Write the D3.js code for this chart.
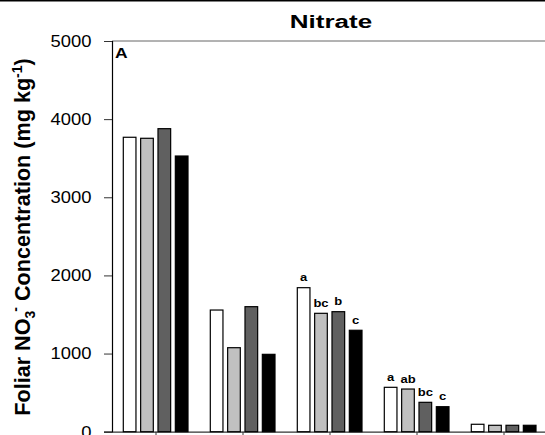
<!DOCTYPE html>
<html>
<head>
<meta charset="utf-8">
<script src="https://cdn.jsdelivr.net/npm/d3@7"></script>
<style>
body{margin:0;background:#fff;}
text{font-family:"Liberation Sans",Arial,sans-serif;}
</style>
</head>
<body>
<div id="chart"></div>
<script>
// data
var groups = ["1","2","3","4","5"];
var series = ["s1","s2","s3","s4"];
var colors = ["#ffffff","#c0c0c0","#606060","#000000"];
var s1 = [3768,1557,1843,568,95];
var s2 = [3755,1075,1515,546,82];
var s3 = [3878,1600,1536,376,82];
var s4 = [3528,990,1298,320,82];
var letters = [
	["","","",""],
	["","","",""],
	["a","bc","b","c"],
	["a","ab","bc","c"],
	["","","",""]
];
var yTicks = [0,1000,2000,3000,4000,5000];

var W = 545, H = 435;
var svg = d3.select("#chart").append("svg").attr("width",W).attr("height",H);

var x0 = d3.scaleBand().domain(groups).range([112.5,547.5]).paddingInner(0).paddingOuter(0);
var x1 = d3.scaleBand().domain(series).range([10.8,75.5]).paddingInner(0.27).paddingOuter(0);
var y = d3.scaleLinear().domain([0,5000]).range([431.7,41]);

var rows = groups.map(function(g,i){
	return {g:g, vals:[s1[i],s2[i],s3[i],s4[i]], lab:letters[i]};
});

// top border
svg.append("line").attr("x1",0).attr("x2",W).attr("y1",0.75).attr("y2",0.75)
	.attr("stroke","#000").attr("stroke-width",1.5);

// top frame line
svg.append("line").attr("x1",112).attr("x2",W).attr("y1",y(5000)).attr("y2",y(5000))
	.attr("stroke","#666").attr("stroke-width",1);

// stretched text helper
function stext(parent,x,yy,str,size,weight,anchor,sx){
	return parent.append("text")
		.attr("transform","translate("+x+","+yy+") scale("+sx+",1)")
		.attr("font-size",size).attr("font-weight",weight)
		.attr("text-anchor",anchor).attr("fill","#000").text(str);
}

// y axis
var yAxis = svg.append("g").attr("transform","translate(112,0)")
	.call(d3.axisLeft(y).tickValues(yTicks).tickSize(8).tickFormat(""));
yAxis.select(".domain").attr("stroke","#000").attr("stroke-width",1.2);
yAxis.selectAll(".tick line").attr("stroke","#333");
yTicks.forEach(function(t){
	stext(svg,91.5,y(t)+5.8,String(t),16,"normal","end",1.15);
});

// x axis
var xAxis = svg.append("g").attr("transform","translate(0,431.7)")
	.call(d3.axisBottom(x0).tickSize(6).tickSizeOuter(0).tickFormat(""));
xAxis.select(".domain").attr("stroke","#333").attr("stroke-width",1.2);
xAxis.selectAll(".tick line").attr("stroke","#333");

// bars
var gg = svg.selectAll("g.grp").data(rows).enter().append("g")
	.attr("class","grp")
	.attr("transform",function(d){return "translate("+x0(d.g)+",0)";});

gg.selectAll("rect").data(function(d){
	return d.vals.map(function(v,j){return {s:series[j],v:v,c:colors[j]};});
}).enter().append("rect")
	.attr("x",function(d){return x1(d.s);})
	.attr("y",function(d){return y(d.v);})
	.attr("width",x1.bandwidth())
	.attr("height",function(d){return y(0)-y(d.v);})
	.attr("fill",function(d){return d.c;})
	.attr("stroke","#000").attr("stroke-width",1.2);

// significance letters
rows.forEach(function(r){
	r.lab.forEach(function(l,j){
		if(l=="") return;
		stext(svg,x0(r.g)+x1(series[j])+x1.bandwidth()/2,y(r.vals[j])-6.5,l,10,"bold","middle",1.3);
	});
});

// title and panel letter
stext(svg,331,28.3,"Nitrate",19,"bold","middle",1.37);
stext(svg,115,58.3,"A",14,"bold","start",1.25);

// y label
var yl = svg.append("text")
	.attr("transform","translate(30,237) rotate(-90)")
	.attr("text-anchor","middle").attr("font-size",21.6).attr("font-weight","bold");
yl.append("tspan").text("Foliar NO");
yl.append("tspan").attr("font-size",14).attr("dy",5).text("3");
yl.append("tspan").attr("font-size",14).attr("dy",-15).attr("dx",-1).text("-");
yl.append("tspan").attr("dy",10).text(" Concentration (mg kg");
yl.append("tspan").attr("font-size",14).attr("dy",-8).text("-1");
yl.append("tspan").attr("dy",8).text(")");
</script>
</body>
</html>
